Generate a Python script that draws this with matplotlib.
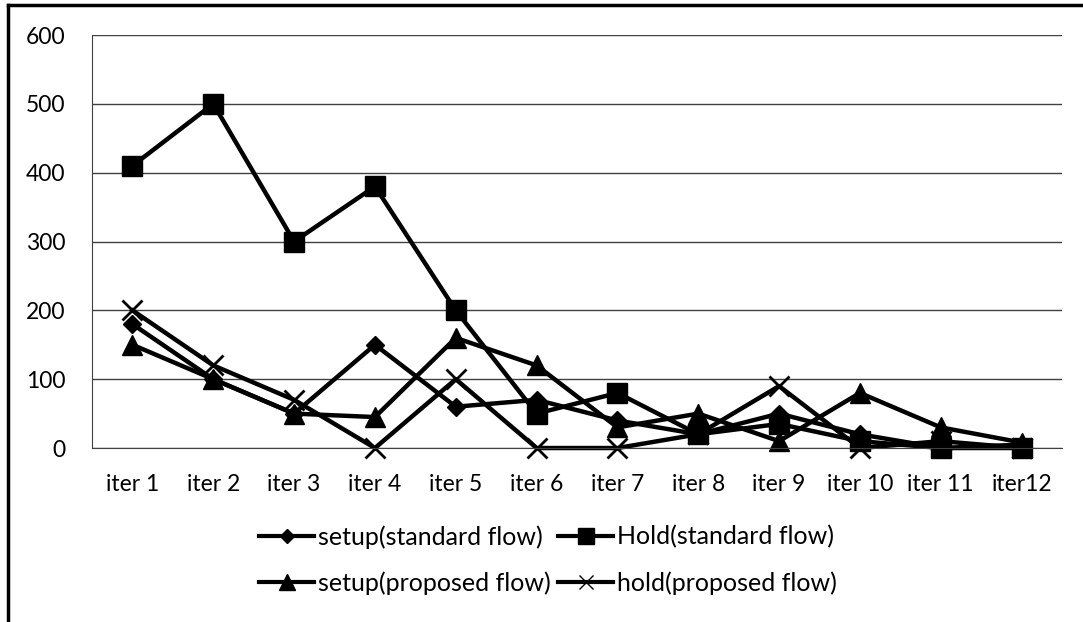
import matplotlib.pyplot as plt
from matplotlib.lines import Line2D

plt.rcParams['font.family'] = ['Lato', 'DejaVu Sans']

iters = ['iter 1', 'iter 2', 'iter 3', 'iter 4', 'iter 5', 'iter 6',
         'iter 7', 'iter 8', 'iter 9', 'iter 10', 'iter 11', 'iter12']

setup_standard = [180, 100, 50, 150, 60, 70, 40, 20, 50, 20, 0, 5]
hold_standard = [410, 500, 300, 380, 200, 50, 80, 20, 35, 10, 0, 0]
setup_proposed = [150, 100, 50, 45, 160, 120, 30, 50, 10, 80, 30, 8]
hold_proposed = [200, 120, 70, 0, 100, 0, 0, 20, 90, 0, 10, 0]

fig = plt.figure(figsize=(10.83, 6.22), dpi=100)
ax = fig.add_axes([0.085, 0.2797, 0.8956, 0.664])

x = list(range(len(iters)))
lw = 3.2
l1, = ax.plot(x, setup_standard, '-D', color='black', lw=lw, ms=9,
              label='setup(standard flow)')
l2, = ax.plot(x, hold_standard, '-s', color='black', lw=lw, ms=14,
              label='Hold(standard flow)')
l3, = ax.plot(x, setup_proposed, '-^', color='black', lw=lw, ms=14,
              label='setup(proposed flow)')
l4, = ax.plot(x, hold_proposed, '-x', color='black', lw=lw, ms=14, mew=2,
              label='hold(proposed flow)')
for ln in (l1, l2, l3, l4):
    ln.set_clip_on(False)

ax.set_xlim(-0.5, len(iters) - 0.5)
ax.set_ylim(0, 600)
ax.set_yticks(range(0, 601, 100))
ax.set_xticks(x)
ax.set_xticklabels(iters)
ax.tick_params(length=0, labelsize=16.5)
ax.tick_params(axis='x', pad=19)
ax.tick_params(axis='y', pad=19)
ax.grid(axis='y', color='#404040', lw=1)
ax.set_axisbelow(True)
for s in ('top', 'right'):
    ax.spines[s].set_visible(False)
ax.spines['left'].set_color('#404040')
ax.spines['bottom'].set_color('#404040')

# legend handles: 2 rows x 2 columns
def handle(marker, ms, mew=1):
    return Line2D([], [], color='black', lw=3, marker=marker, ms=ms, mew=mew)

handles = [handle('D', 7), handle('^', 11), handle('s', 11), handle('x', 10, 1)]
labels = ['setup(standard flow)', 'setup(proposed flow)',
          'Hold(standard flow)', 'hold(proposed flow)']
fig.legend(handles, labels, loc='center', bbox_to_anchor=(0.506, 0.1), ncol=2,
           frameon=False, fontsize=18, handlelength=2.2, handletextpad=0.15,
           columnspacing=0.3, labelspacing=0.9)

# outer frame
fig.add_artist(Line2D([0.0075, 0.0075], [0, 0.992], color='black', lw=2.5,
                      transform=fig.transFigure))
fig.add_artist(Line2D([0.0075, 1.0], [0.992, 0.992], color='black', lw=2.5,
                      transform=fig.transFigure))

fig.savefig('out.png', dpi=100)
